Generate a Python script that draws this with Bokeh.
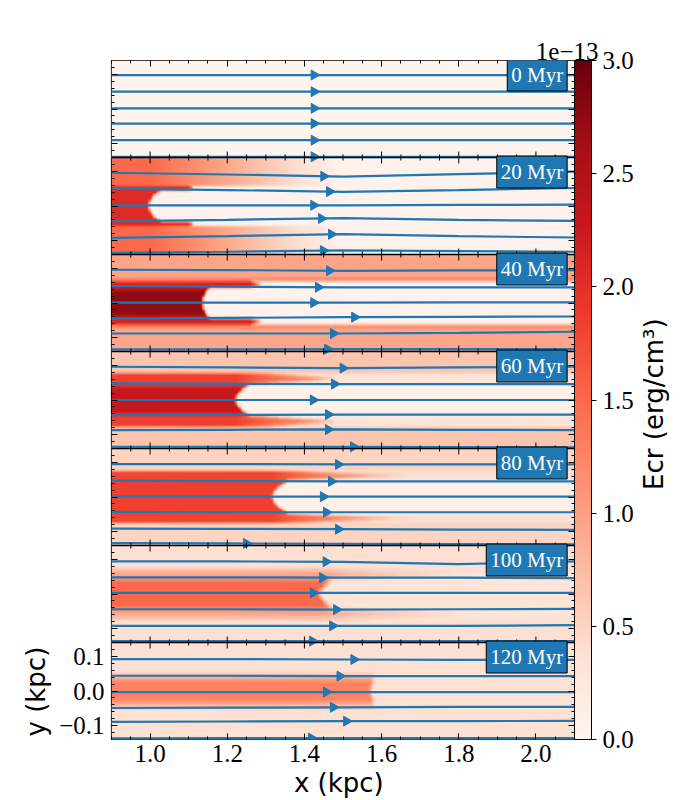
import numpy as np
from bokeh.plotting import figure
from bokeh.layouts import row
from bokeh.models import (LinearColorMapper, ColorBar, FixedTicker, SingleIntervalTicker,
                          LinearAxis, Label, Title, CustomJSTickFormatter, PrintfTickFormatter,
                          Range1d)
from bokeh.palettes import Reds256
from bokeh.embed import file_html
from bokeh.resources import INLINE

# ---------------- data ----------------
times_myr = [0, 20, 40, 60, 80, 100, 120]
panel_labels = [f"{t} Myr" for t in times_myr]

X_MIN, X_MAX = 0.9, 2.1
Y_HALF = 0.14
cbar_ticks = [0.0, 0.5, 1.0, 1.5, 2.0, 2.5, 3.0]   # units of 1e-13 erg/cm^3

# Ecr structure per panel (units of 1e-13)
out_left       = [0.03, 1.50, 0.95, 0.65, 0.50, 0.38, 0.37]
out_right      = [0.03, 0.05, 0.95, 0.65, 0.50, 0.38, 0.37]
out_fade_start = [0.90, 1.00, 0.90, 0.90, 0.90, 0.90, 0.90]
out_fade_end   = [2.10, 1.50, 2.10, 2.10, 2.10, 2.10, 2.10]
core_half      = [0.000, 0.045, 0.045, 0.046, 0.047, 0.043, 0.041]
core_inner     = [0.000, 0.045, 0.035, 0.035, 0.047, 0.043, 0.041]
core_val       = [0.00, 2.05, 2.75, 2.30, 1.85, 1.50, 1.27]
core_edge_val  = [0.00, 2.05, 2.40, 2.05, 1.85, 1.50, 1.27]
core_nose      = [0.900, 0.997, 1.135, 1.222, 1.318, 1.436, 1.571]
core_len       = [0.000, 0.030, 0.020, 0.040, 0.040, 0.036, 0.013]
core_pow       = [2.0, 2.0, 2.0, 2.0, 2.0, 1.2, 2.0]
hole_val       = [0.03, 0.05, 0.05, 0.10, 0.08, 0.30, 0.37]
sheath_half    = [0.000, 0.058, 0.062, 0.078, 0.076, 0.070, 0.000]
sheath_val     = [0.00, 2.05, 2.15, 1.85, 1.80, 0.95, 0.00]
sheath_end_edge = [0.90, 1.10, 1.26, 1.30, 1.38, 1.47, 0.90]
sheath_end_tip  = [0.90, 1.115, 1.29, 1.49, 1.67, 1.85, 0.90]
sheath_fade    = [0.0, 0.0, 0.0, 0.75, 0.85, 0.70, 0.0]
sheath_after   = [0.03, 0.05, 0.05, 0.30, 0.38, 0.30, 0.37]
stripe_half    = [0.000, 0.000, 0.072, 0.000, 0.000, 0.000, 0.000]
stripe_val     = [0.00, 0.00, 1.25, 0.00, 0.00, 0.00, 0.00]
soft_y         = [0, 2, 2, 2, 2, 4, 6]

# streamlines: y (kpc) at knots, per panel, 6 lines each
stream_x = [0.9, 1.2, 1.5, 1.8, 2.1]
stream_y = [
    [[0.098]*5, [0.050]*5, [0.002]*5, [-0.042]*5, [-0.090]*5, [-0.138]*5],
    [[0.096, 0.091, 0.085, 0.092, 0.099], [0.050, 0.046, 0.041, 0.046, 0.052],
     [0.002, 0.002, 0.002, 0.003, 0.004], [-0.044, -0.040, -0.035, -0.040, -0.043],
     [-0.092, -0.087, -0.081, -0.087, -0.091], [-0.135, -0.132, -0.128, -0.130, -0.132]],
    [[0.096, 0.095, 0.093, 0.094, 0.095], [0.049, 0.047, 0.045, 0.045, 0.045],
     [0.001, 0.001, 0.001, 0.002, 0.002], [-0.045, -0.043, -0.041, -0.040, -0.039],
     [-0.088, -0.088, -0.088, -0.086, -0.083], [-0.134, -0.134, -0.133, -0.133, -0.133]],
    [[0.096, 0.094, 0.092, 0.094, 0.096], [0.048, 0.047, 0.046, 0.046, 0.046],
     [0.000, 0.000, 0.000, 0.000, 0.000], [-0.044, -0.043, -0.042, -0.042, -0.042],
     [-0.087, -0.086, -0.085, -0.086, -0.087], [-0.135, -0.135, -0.135, -0.136, -0.137]],
    [[0.095, 0.095, 0.094, 0.094, 0.094], [0.047, 0.046, 0.045, 0.045, 0.045],
     [0.001, 0.001, 0.001, 0.001, 0.001], [-0.043, -0.044, -0.044, -0.044, -0.044],
     [-0.091, -0.092, -0.093, -0.094, -0.095], [-0.133, -0.134, -0.135, -0.136, -0.137]],
    [[0.094, 0.094, 0.093, 0.086, 0.094], [0.048, 0.048, 0.047, 0.047, 0.046],
     [0.003, 0.003, 0.003, 0.003, 0.003], [-0.044, -0.044, -0.045, -0.044, -0.043],
     [-0.092, -0.092, -0.092, -0.092, -0.090], [-0.136, -0.136, -0.136, -0.136, -0.136]],
    [[0.092, 0.092, 0.091, 0.090, 0.090], [0.044, 0.044, 0.043, 0.043, 0.043],
     [-0.003, -0.003, -0.003, -0.003, -0.003], [-0.049, -0.048, -0.047, -0.046, -0.046],
     [-0.089, -0.088, -0.087, -0.087, -0.086], [-0.137, -0.136, -0.136, -0.136, -0.136]],
]
arrow_x = [
    [1.425, 1.425, 1.425, 1.425, 1.425, 1.425],
    [1.450, 1.465, 1.424, 1.444, 1.470, 1.449],
    [1.465, 1.436, 1.424, 1.530, 1.475, 1.460],
    [1.500, 1.478, 1.423, 1.462, 1.462, 1.527],
    [1.488, 1.470, 1.449, 1.457, 1.488, 1.250],
    [1.456, 1.447, 1.423, 1.483, 1.473, 1.421],
    [1.528, 1.492, 1.457, 1.475, 1.509, 1.418],
]

# ---------------- field construction ----------------
NX, NY = 360, 112
xc = X_MIN + (np.arange(NX) + 0.5) * (X_MAX - X_MIN) / NX
yc = -Y_HALF + (np.arange(NY) + 0.5) * 2 * Y_HALF / NY


def blur(a, r, axis):
    if r <= 0:
        return a
    n = a.shape[axis]
    pad = [(0, 0), (0, 0)]
    pad[axis] = (r, r)
    ap = np.pad(a, pad, mode="edge")
    acc = np.zeros_like(a)
    for i in range(2 * r + 1):
        acc += np.take(ap, range(i, i + n), axis=axis)
    return acc / (2 * r + 1)


def panel_field(k):
    xx, yy = np.meshgrid(xc, yc)
    ay = np.abs(yy)
    t = np.clip((xx - out_fade_start[k]) / (out_fade_end[k] - out_fade_start[k]), 0, 1)
    v = out_left[k] + (out_right[k] - out_left[k]) * t
    if stripe_half[k] > sheath_half[k]:
        v = np.where((ay >= sheath_half[k]) & (ay < stripe_half[k]), stripe_val[k], v)
    if sheath_half[k] > core_half[k]:
        band = (ay >= core_half[k]) & (ay < sheath_half[k])
        mid = 0.5 * (core_half[k] + sheath_half[k])
        hw = 0.5 * (sheath_half[k] - core_half[k])
        close = np.clip(1 - np.abs(ay - mid) / hw, 0, 1)
        x_end = sheath_end_edge[k] + (sheath_end_tip[k] - sheath_end_edge[k]) * close
        s = np.clip((xx - core_nose[k]) / np.maximum(x_end - core_nose[k], 1e-6), 0, 1)
        sv = sheath_val[k] + (v - sheath_val[k]) * s * sheath_fade[k]
        v = np.where(band & (xx < x_end), sv, np.where(band, sheath_after[k], v))
    if core_half[k] > 0:
        inside = ay < core_half[k]
        xf = core_nose[k] + core_len[k] * (ay / core_half[k]) ** core_pow[k]
        cv = np.where(ay < core_inner[k], core_val[k], core_edge_val[k])
        v = np.where(inside & (xx < xf), cv, np.where(inside, hole_val[k], v))
    v = blur(v, soft_y[k], 0)
    v = blur(v, 1, 1)
    return v


# ---------------- figure ----------------
NP = len(times_myr)
PH = 2 * Y_HALF
centers = [(NP - 1 - k) * PH for k in range(NP)]
Y0, Y1 = -Y_HALF, (NP - 1) * PH + Y_HALF
FW, FH = 463, 679
SERIF = "Liberation Serif"
SANS = "DejaVu Sans"
TICK_FS = "25px"
LAB_FS = "26px"

p = figure(frame_width=FW, frame_height=FH, output_backend="svg", toolbar_location=None,
           x_range=Range1d(X_MIN, X_MAX), y_range=Range1d(Y0, Y1),
           min_border_left=111, min_border_right=62, min_border_top=60, min_border_bottom=61,
           background_fill_color="white", border_fill_color="white")
p.grid.visible = False
p.outline_line_color = "black"
p.outline_line_width = 1.2

mapper = LinearColorMapper(palette=list(reversed(Reds256)), low=0.0, high=3.0)

for k in range(NP):
    f = panel_field(k)
    p.image(image=[f], x=X_MIN, y=centers[k] - Y_HALF, dw=X_MAX - X_MIN, dh=PH,
            color_mapper=mapper)

# streamlines
xs_all, ys_all, ax_all, ay_all = [], [], [], []
for k in range(NP):
    for li, ly in enumerate(stream_y[k]):
        xs_all.append(stream_x)
        ys_all.append([centers[k] + v for v in ly])
        ax_all.append(arrow_x[k][li])
        ay_all.append(centers[k] + float(np.interp(arrow_x[k][li], stream_x, ly)))
p.multi_line(xs=xs_all, ys=ys_all, line_color="#1f77b4", line_width=2.2)
p.scatter(x=ax_all, y=ay_all, marker="triangle", size=10, angle=-np.pi / 2,
          fill_color="#1f77b4", line_color="#1f77b4")

# panel separators
bounds = [c - Y_HALF for c in centers[:-1]]
p.hspan(y=bounds, line_color="black", line_width=1.5)

# tick marks on internal separators
ypx = (Y1 - Y0) / FH
maj_x = [1.0, 1.2, 1.4, 1.6, 1.8, 2.0]
min_x = [0.95, 1.05, 1.1, 1.15, 1.25, 1.3, 1.35, 1.45, 1.5, 1.55, 1.65, 1.7, 1.75,
         1.85, 1.9, 1.95, 2.05]
sx0, sy0, sx1, sy1 = [], [], [], []
for b in bounds:
    for xv in maj_x:
        sx0.append(xv); sx1.append(xv); sy0.append(b - 6 * ypx); sy1.append(b + 6 * ypx)
    for xv in min_x:
        sx0.append(xv); sx1.append(xv); sy0.append(b - 3 * ypx); sy1.append(b + 3 * ypx)
p.segment(x0=sx0, y0=sy0, x1=sx1, y1=sy1, line_color="black", line_width=1)


def style_axis(ax):
    ax.major_tick_in = 6
    ax.major_tick_out = 0
    ax.minor_tick_in = 3
    ax.minor_tick_out = 0
    ax.axis_line_color = None
    ax.major_tick_line_color = "black"
    ax.minor_tick_line_color = "black"
    ax.major_label_text_font = SERIF
    ax.major_label_text_font_size = TICK_FS
    ax.major_label_text_color = "black"


xt = SingleIntervalTicker(interval=0.2, num_minor_ticks=4)
p.xaxis.ticker = xt
p.xaxis.formatter = PrintfTickFormatter(format="%.1f")
style_axis(p.xaxis[0])
p.xaxis.major_label_standoff = 5
p.xaxis.axis_label = "x  (kpc)"
p.xaxis.axis_label_text_font = SANS
p.xaxis.axis_label_text_font_size = LAB_FS
p.xaxis.axis_label_text_font_style = "normal"
p.xaxis.axis_label_text_color = "black"
p.xaxis.axis_label_standoff = 3

ymaj, ymin = [], []
for c in centers:
    ymaj += [c - 0.1, c, c + 0.1]
    ymin += [c + d for d in [-0.12, -0.08, -0.06, -0.04, -0.02, 0.02, 0.04, 0.06, 0.08, 0.12]]
yt = FixedTicker(ticks=ymaj, minor_ticks=ymin)
yfmt = CustomJSTickFormatter(code="""
if (tick > 0.15) { return ""; }
const v = Math.round(tick * 10) / 10;
return (v < 0 ? "\u2212" : "") + Math.abs(v).toFixed(1);
""")
p.yaxis.ticker = yt
p.yaxis.formatter = yfmt
style_axis(p.yaxis[0])
p.yaxis.major_label_standoff = 7

blank = CustomJSTickFormatter(code="return '';")
top_ax = LinearAxis(ticker=xt, formatter=blank)
style_axis(top_ax)
top_ax.major_label_standoff = 0
p.add_layout(top_ax, "above")
right_ax = LinearAxis(ticker=yt, formatter=blank)
style_axis(right_ax)
right_ax.major_label_standoff = 0
p.add_layout(right_ax, "right")

cb = ColorBar(color_mapper=mapper, ticker=FixedTicker(ticks=cbar_ticks),
              formatter=PrintfTickFormatter(format="%.1f"),
              width=17, height=FH, padding=0, margin=0,
              major_tick_in=0, major_tick_out=5, major_tick_line_color="black",
              minor_tick_line_color=None, bar_line_color="black",
              major_label_text_font=SERIF, major_label_text_font_size=TICK_FS,
              major_label_text_color="black",
              label_standoff=6, border_line_color=None, background_fill_alpha=0)
p.add_layout(cb, "right")

# exponent above the colour bar
p.add_layout(Title(text="1e\u221213", align="right", offset=-24, standoff=2,
                   text_font=SERIF, text_font_size=TICK_FS, text_font_style="normal",
                   text_color="black"),
             "above")
# y label on the bottom panel only
p.add_layout(Title(text="y  (kpc)", align="left", offset=3, standoff=12,
                   text_font=SANS, text_font_size=LAB_FS, text_font_style="normal",
                   text_color="black"),
             "left")

# labels in panels
for k in range(NP):
    p.add_layout(Label(x=2.081, y=centers[k] + Y_HALF + 1.5 * ypx, text=panel_labels[k],
                       anchor="top_right", text_font=SERIF, text_font_size="21px",
                       text_color="white", background_fill_color="#1f77b4",
                       border_line_color="black", border_line_width=1, padding=4))

# colour-bar label (separate strip so it reads bottom-to-top)
q = figure(frame_width=1, frame_height=FH, output_backend="svg", toolbar_location=None,
           min_border_left=29, min_border_right=0, min_border_top=60, min_border_bottom=61,
           x_range=Range1d(0, 1), y_range=Range1d(0, 1),
           background_fill_color="white", border_fill_color="white")
q.axis.visible = False
q.grid.visible = False
q.outline_line_color = None
q.add_layout(Title(text="Ecr  (erg/cm\u00b3)", align="center", standoff=0,
                   text_font=SANS, text_font_size=LAB_FS, text_font_style="normal",
                   text_color="black"),
             "left")

layout = row(p, q)
open("out.html", "w").write(file_html(layout, INLINE))
